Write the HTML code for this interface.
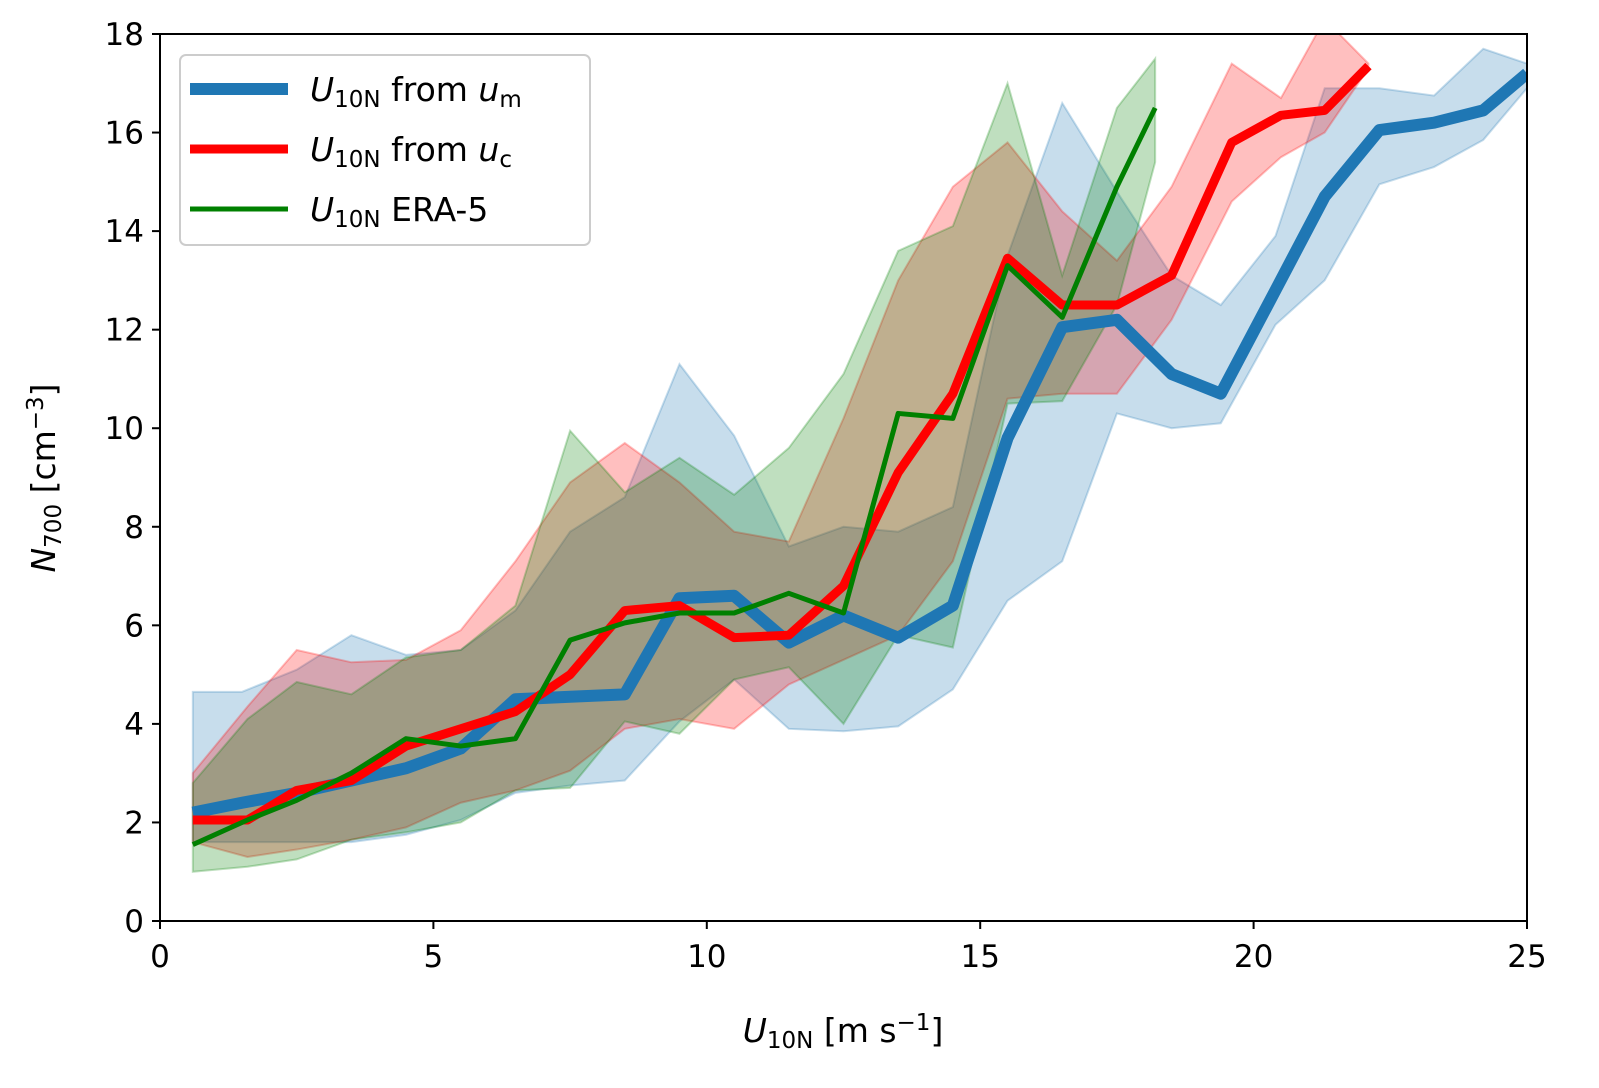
<!DOCTYPE html>
<html><head><meta charset="utf-8"><style>
html,body{margin:0;padding:0;background:#fff;overflow:hidden;width:1599px;height:1088px;}
svg{display:block;}
svg text{font-family:"DejaVu Sans","Liberation Sans",sans-serif;fill:#000;}
</style></head><body>
<svg id="chart" width="1599" height="1088" xmlns="http://www.w3.org/2000/svg">
<g id="bands"></g><g id="lines"></g><g id="axes"></g>
<g id="legend">
<rect x="180" y="55" width="410" height="190" rx="6" fill="#fff" fill-opacity="0.8" stroke="#ccc" stroke-width="2"/>
<g><line x1="190" y1="89" x2="288" y2="89" stroke="#1f77b4" stroke-width="12"/>
<text x="310" y="101" font-size="33"><tspan font-style="italic">U</tspan><tspan font-size="23" dy="6">10N</tspan><tspan dy="-6"> from </tspan><tspan font-style="italic">u</tspan><tspan font-size="23" dy="6">m</tspan></text></g>
<g><line x1="190" y1="149" x2="288" y2="149" stroke="#ff0000" stroke-width="9"/>
<text x="310" y="161" font-size="33"><tspan font-style="italic">U</tspan><tspan font-size="23" dy="6">10N</tspan><tspan dy="-6"> from </tspan><tspan font-style="italic">u</tspan><tspan font-size="23" dy="6">c</tspan></text></g>
<g><line x1="190" y1="209" x2="288" y2="209" stroke="#008000" stroke-width="5"/>
<text x="310" y="221" font-size="33"><tspan font-style="italic">U</tspan><tspan font-size="23" dy="6">10N</tspan><tspan dy="-6"> ERA-5</tspan></text></g>
</g>
<text x="843" y="1042" font-size="33" text-anchor="middle"><tspan font-style="italic">U</tspan><tspan font-size="23" dy="6">10N</tspan><tspan dy="-6"> [m s</tspan><tspan font-size="23" dy="-12">−1</tspan><tspan dy="12">]</tspan></text>
<text transform="translate(55,478) rotate(-90)" font-size="33" text-anchor="middle"><tspan font-style="italic">N</tspan><tspan font-size="23" dy="6">700</tspan><tspan dy="-6"> [cm</tspan><tspan font-size="23" dy="-12">−3</tspan><tspan dy="12">]</tspan></text>
</svg>
<script>
const blueX=[0.6,1.5,2.5,3.5,4.5,5.5,6.5,7.5,8.5,9.5,10.5,11.5,12.5,13.5,14.5,15.5,16.5,17.5,18.5,19.4,20.4,21.3,22.3,23.3,24.2,25];
const blueY=[2.2,2.4,2.6,2.85,3.1,3.5,4.5,4.55,4.6,6.55,6.6,5.65,6.2,5.75,6.4,9.8,12.05,12.2,11.1,10.7,12.8,14.7,16.05,16.2,16.45,17.2];
const blueLo=[1.6,1.6,1.6,1.6,1.75,2.05,2.6,2.75,2.85,4.05,4.9,3.9,3.85,3.95,4.7,6.5,7.3,10.3,10.0,10.1,12.1,13.0,14.95,15.3,15.85,16.9];
const blueHi=[4.65,4.65,5.1,5.8,5.4,5.5,6.3,7.9,8.6,11.3,9.85,7.6,8.0,7.9,8.4,13.5,16.6,14.8,13.1,12.5,13.9,16.9,16.9,16.75,17.7,17.4];
const redX=[0.6,1.6,2.5,3.5,4.5,5.5,6.5,7.5,8.5,9.5,10.5,11.5,12.5,13.5,14.5,15.5,16.5,17.5,18.5,19.6,20.5,21.3,22.1];
const redY=[2.05,2.05,2.65,2.85,3.55,3.9,4.25,5.0,6.3,6.4,5.75,5.8,6.8,9.1,10.7,13.45,12.5,12.5,13.1,15.8,16.35,16.45,17.35];
const redLo=[1.6,1.3,1.45,1.65,1.9,2.4,2.65,3.05,3.9,4.1,3.9,4.8,5.3,5.8,7.3,10.6,10.7,10.7,12.2,14.6,15.5,16.0,17.3];
const redHi=[3.0,4.35,5.5,5.25,5.3,5.9,7.3,8.9,9.7,8.9,7.9,7.7,10.2,13.0,14.9,15.8,14.4,13.4,14.9,17.4,16.7,18.3,17.4];
const grnX=[0.6,1.6,2.5,3.5,4.5,5.5,6.5,7.5,8.5,9.5,10.5,11.5,12.5,13.5,14.5,15.5,16.5,17.5,18.2];
const grnY=[1.55,2.05,2.45,3.0,3.7,3.55,3.7,5.7,6.05,6.25,6.25,6.65,6.25,10.3,10.2,13.3,12.25,14.9,16.5];
const grnLo=[1.0,1.1,1.25,1.65,1.8,2.0,2.65,2.7,4.05,3.8,4.9,5.15,4.0,5.8,5.55,10.5,10.55,12.5,15.4];
const grnHi=[2.8,4.1,4.85,4.6,5.35,5.5,6.4,9.95,8.7,9.4,8.65,9.6,11.1,13.6,14.1,17.0,13.1,16.5,17.5];
const xTicks=[0,5,10,15,20,25];
const yTicks=[0,2,4,6,8,10,12,14,16,18];

const L=160,R=1527,T=34,B=921;
const sx=v=>L+(R-L)*v/25, sy=v=>B-(B-T)*v/18;
const NS="http://www.w3.org/2000/svg";
function mk(t,a,p){const e=document.createElementNS(NS,t);for(const k in a)e.setAttribute(k,a[k]);p.appendChild(e);return e;}
const bands=document.getElementById('bands'),lines=document.getElementById('lines'),axes=document.getElementById('axes');
const cp=mk('clipPath',{id:'clip'},bands);
mk('rect',{x:L,y:T,width:R-L,height:B-T},cp);
function band(xs,lo,hi,c,name){
  let d=xs.map((x,i)=>(i?'L':'M')+sx(x)+','+sy(hi[i])).join('');
  for(let i=xs.length-1;i>=0;i--)d+='L'+sx(xs[i])+','+sy(lo[i]);
  const p=mk('path',{d:d+'Z',fill:c,'fill-opacity':0.25,stroke:c,'stroke-opacity':0.25,'stroke-width':2,'clip-path':'url(#clip)'},bands);
  
  
}
function line(xs,ys,c,w,name){
  const p=mk('polyline',{points:xs.map((x,i)=>sx(x)+','+sy(ys[i])).join(' '),fill:'none',stroke:c,'stroke-width':w,'stroke-linejoin':'round','clip-path':'url(#clip)'},lines);
  
  
}
band(blueX,blueLo,blueHi,'#1f77b4','band-um');
band(redX,redLo,redHi,'#ff0000','band-uc');
band(grnX,grnLo,grnHi,'#008000','band-era5');
line(blueX,blueY,'#1f77b4',12,'line-um');
line(redX,redY,'#ff0000',9,'line-uc');
line(grnX,grnY,'#008000',5,'line-era5');
const fr=mk('rect',{x:L,y:T,width:R-L,height:B-T,fill:'none',stroke:'#000','stroke-width':2},axes);


xTicks.forEach(v=>{
  mk('line',{x1:sx(v),x2:sx(v),y1:B,y2:B+8,stroke:'#000','stroke-width':2},axes);
  const t=mk('text',{x:sx(v),y:B+46,'font-size':31,'text-anchor':'middle'},axes);t.textContent=v;
  
  
});
yTicks.forEach(v=>{
  mk('line',{x1:L-8,x2:L,y1:sy(v),y2:sy(v),stroke:'#000','stroke-width':2},axes);
  const t=mk('text',{x:L-16,y:sy(v)+11,'font-size':31,'text-anchor':'end'},axes);t.textContent=v;
  
  
});
</script>
</body></html>
